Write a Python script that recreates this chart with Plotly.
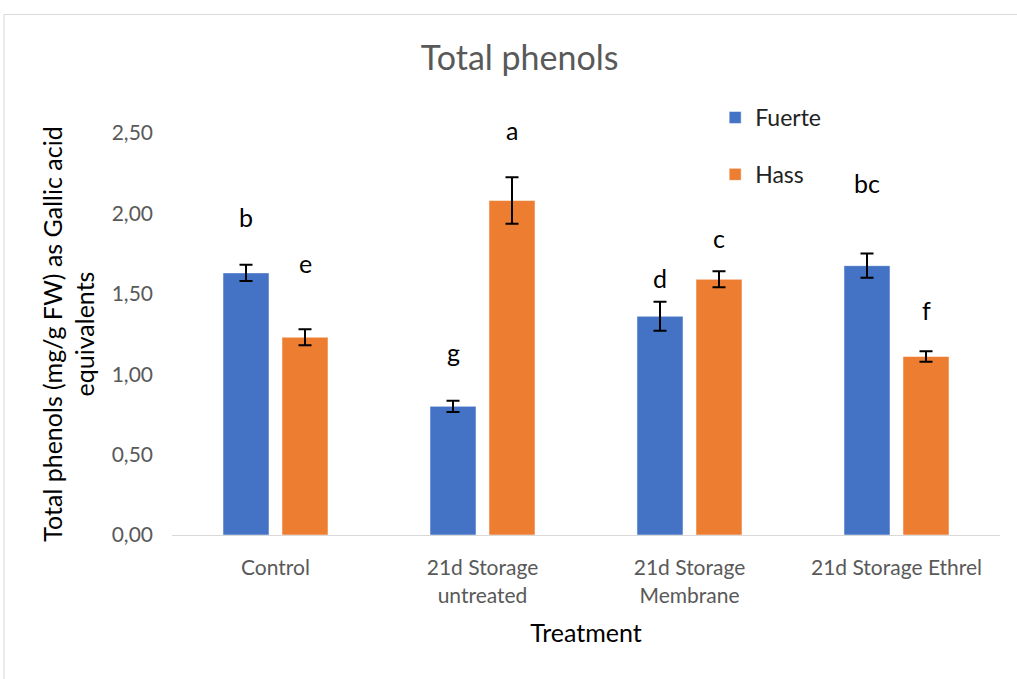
import plotly.graph_objects as go

# Treatments on the x axis
categories = ["Control", "21d Storage<br>untreated", "21d Storage<br>Membrane", "21d Storage Ethrel"]

# Total phenols (mg/g FW, Gallic acid equivalents) and their error bars
fuerte = [1.63, 0.80, 1.36, 1.675]
fuerte_err = [0.05, 0.035, 0.09, 0.075]
hass = [1.23, 2.08, 1.59, 1.11]
hass_err = [0.05, 0.145, 0.05, 0.033]

# Significance letters for each bar and the height (in axis units) where each is written
fuerte_letters = ["b", "g", "d", "bc"]
fuerte_letter_y = [1.98, 1.14, 1.60, 2.19]
hass_letters = ["e", "a", "c", "f"]
hass_letter_y = [1.69, 2.52, 1.85, 1.40]

Y_MAX = 2.5

BLUE = "#4472C4"
ORANGE = "#ED7D31"
FONT = "Lato, 'Open Sans', sans-serif"
GREY_TEXT = "#595959"

fig = go.Figure()
fig.add_trace(go.Bar(
    name="Fuerte", x=categories, y=fuerte, marker_color=BLUE,
    marker_line=dict(color="white", width=0.5), legendgroup="f",
    error_y=dict(type="data", array=fuerte_err, color="black", thickness=2, width=6.5),
))
fig.add_trace(go.Bar(
    name="Hass", x=categories, y=hass, marker_color=ORANGE,
    marker_line=dict(color="white", width=0.5), legendgroup="h",
    error_y=dict(type="data", array=hass_err, color="black", thickness=2, width=6.5),
))

# Letters above each bar; the vertical position is given as a fraction of the
# y range so letters above the top of the axis are still drawn
annotations = []
for i, cat in enumerate(categories):
    annotations.append(dict(
        x=cat, y=fuerte_letter_y[i] / Y_MAX, xref="x", yref="paper", xshift=-29.5,
        xanchor="center", yanchor="middle",
        text=fuerte_letters[i], showarrow=False, font=dict(size=25, color="black", family=FONT),
    ))
    annotations.append(dict(
        x=cat, y=hass_letter_y[i] / Y_MAX, xref="x", yref="paper", xshift=29.5,
        xanchor="center", yanchor="middle",
        text=hass_letters[i], showarrow=False, font=dict(size=25, color="black", family=FONT),
    ))

fig.update_layout(
    width=1017, height=679,
    margin=dict(l=172, r=17, t=133, b=144),
    plot_bgcolor="white", paper_bgcolor="white",
    separators=",.",
    barmode="group", bargap=0.43, bargroupgap=0.22,
    font=dict(family=FONT, size=21, color="#000000"),
    title=dict(text="Total phenols", x=0.511, xanchor="center", xref="container",
               y=0.9146, yanchor="middle", yref="container",
               font=dict(size=34, color=GREY_TEXT, family=FONT)),
    legend=dict(x=0.656, y=1.092, xanchor="left", yanchor="top", tracegroupgap=24,
                font=dict(size=23, family=FONT, color="#222222"), bgcolor="rgba(0,0,0,0)",
                itemwidth=30),
    annotations=annotations,
    xaxis=dict(
        showline=True, linecolor="#d9d9d9", linewidth=1, ticks="", ticklabelstandoff=14,
        tickfont=dict(size=21, family=FONT, color=GREY_TEXT),
        title=dict(text="Treatment", font=dict(size=25, family=FONT), standoff=18),
    ),
    yaxis=dict(
        range=[0, Y_MAX], dtick=0.5, tickformat=".2f", showgrid=False, showline=False,
        zeroline=False, ticks="", ticklabelstandoff=18,
        tickfont=dict(size=21, family=FONT, color=GREY_TEXT),
        title=dict(text="Total phenols (mg/g FW) as Gallic acid<br>equivalents",
                   font=dict(size=25, family=FONT), standoff=9),
    ),
    shapes=[dict(type="rect", xref="paper", yref="paper",
                 x0=-0.2029, x1=1.2, y0=-0.6, y1=1.2948,
                 line=dict(color="#d9d9d9", width=1), fillcolor="rgba(0,0,0,0)", layer="below")],
)

fig.write_html("out.html")
